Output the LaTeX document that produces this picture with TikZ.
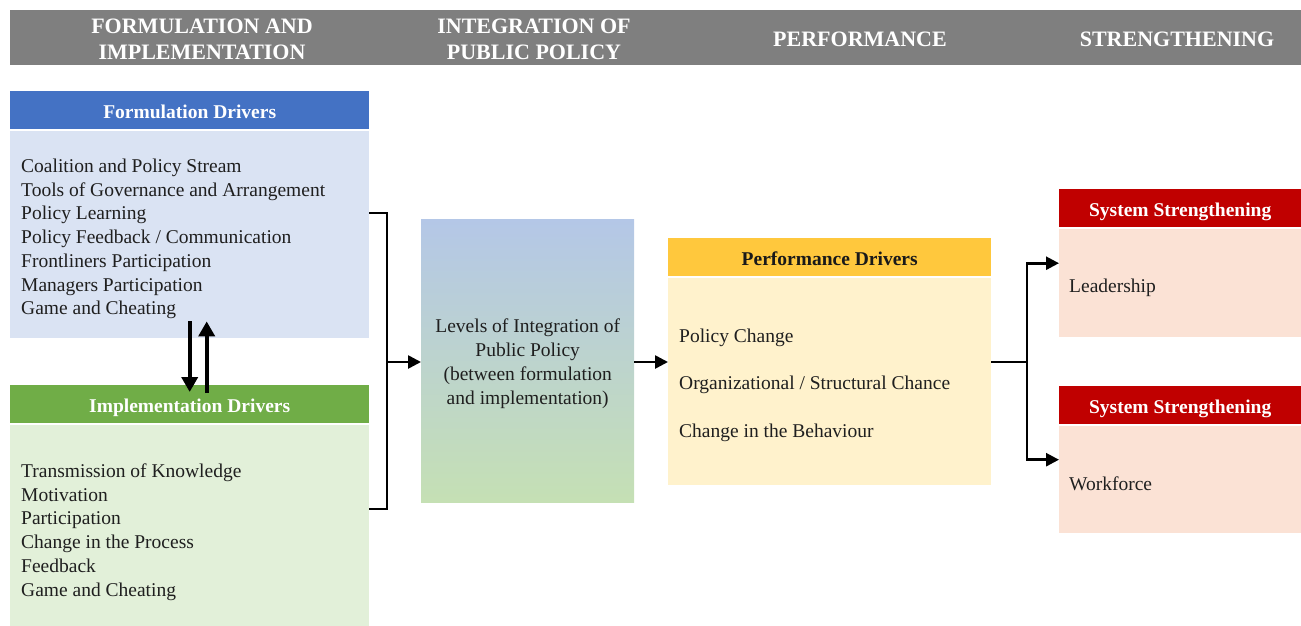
\documentclass[tikz,border=0pt]{standalone}
\usepackage{fontspec}
\setmainfont{Liberation Serif}
\usetikzlibrary{arrows.meta,calc}

\definecolor{bandgray}{HTML}{7F7F7F}
\definecolor{formblue}{HTML}{4472C4}
\definecolor{formfill}{HTML}{DAE3F3}
\definecolor{implgreen}{HTML}{70AD47}
\definecolor{implfill}{HTML}{E2F0D9}
\definecolor{perfgold}{HTML}{FFC83D}
\definecolor{perffill}{HTML}{FFF2CC}
\definecolor{strred}{HTML}{C00000}
\definecolor{strfill}{HTML}{FBE2D5}
\definecolor{integtop}{HTML}{B4C7E7}
\definecolor{integbot}{HTML}{C5E0B4}

\begin{document}
\begin{tikzpicture}[
        x=1pt, y=-1pt,
        coltitle/.style={text=white, align=center, inner sep=0pt,
            font=\fontsize{22}{26}\selectfont\bfseries},
        head/.style={anchor=north west, inner sep=0pt, minimum height=38pt,
            text height=16pt, text depth=0pt,
            text=white, font=\fontsize{19.5}{23}\selectfont\bfseries},
        body/.style={anchor=north west, inner sep=0pt},
        items/.style={anchor=west, align=left, inner sep=0pt, text=black!88,
            font=\fontsize{19.5}{23.7}\selectfont},
        wire/.style={line width=2.6pt},
        link/.style={wire, -{Triangle[length=13pt, width=13pt]}},
        swap/.style={line width=4pt, -{Triangle[length=15pt, width=16pt]}},
    ]
    \useasboundingbox (0,0) rectangle (1301,626);

    % column titles
    \node[body, fill=bandgray, minimum width=1291pt, minimum height=55pt] (bar) at (10,10) {};
    \node[coltitle] (colform) at (202,39) {FORMULATION AND\\IMPLEMENTATION};
    \node[coltitle] (colinteg) at (534,39) {INTEGRATION OF\\PUBLIC POLICY};
    \node[coltitle] (colperf) at (860,39) {PERFORMANCE};
    \node[coltitle] (colstr) at (1177,39) {STRENGTHENING};

    % formulation and implementation
    \node[head, fill=formblue, minimum width=359pt] (formhead) at (10,91) {Formulation Drivers};
    \node[body, fill=formfill, minimum width=359pt, minimum height=207pt] (formbody) at (10,131) {};
    \node[items] (formlist) at (21,239) {Coalition and Policy Stream\\Tools of Governance and Arrangement\\Policy Learning\\Policy Feedback / Communication\\Frontliners Participation\\Managers Participation\\Game and Cheating};

    \node[head, fill=implgreen, minimum width=359pt] (implhead) at (10,385) {Implementation Drivers};
    \node[body, fill=implfill, minimum width=359pt, minimum height=201pt] (implbody) at (10,425) {};
    \node[items] (impllist) at (21,532) {Transmission of Knowledge\\Motivation\\Participation\\Change in the Process\\Feedback\\Game and Cheating};

    \draw[swap] ([yshift=17pt]formbody.south) -- ([yshift=-7pt]implhead.north);
    \draw[swap] ([xshift=17pt, yshift=-8pt]implhead.north) -- ([xshift=17pt, yshift=17pt]formbody.south);

    % integration
    \node[body, top color=integtop, bottom color=integbot, minimum width=213pt, minimum height=283pt] (integ) at (421,219) {};
    \node[align=center, inner sep=0pt, text=black!88, font=\fontsize{19.5}{23.7}\selectfont] (integlabel)
        at ([yshift=-3pt]integ.center) {Levels of Integration of\\Public Policy\\(between formulation\\and implementation)};

    % performance
    \node[head, fill=perfgold, text=black!90, minimum width=323pt] (perfhead) at (668,238) {Performance Drivers};
    \node[body, fill=perffill, minimum width=323pt, minimum height=207pt] (perfbody) at (668,278) {};
    \node[items, font=\fontsize{19.5}{47.5}\selectfont] (perflist) at (679,385) {Policy Change\\Organizational / Structural Chance\\Change in the Behaviour};

    % strengthening
    \node[head, fill=strred, minimum width=242pt] (strheadA) at (1059,189) {System Strengthening};
    \node[body, fill=strfill, minimum width=242pt, minimum height=108pt] (strbodyA) at (1059,229) {};
    \node[items] (strlistA) at (1069,288) {Leadership};
    \node[head, fill=strred, minimum width=242pt] (strheadB) at (1059,386) {System Strengthening};
    \node[body, fill=strfill, minimum width=242pt, minimum height=107pt] (strbodyB) at (1059,426) {};
    \node[items] (strlistB) at (1069,484) {Workforce};

    % connectors
    \coordinate (joinL) at (387,362);
    \coordinate (joinR) at (1027,362);
    \draw[wire] (formbody.east |- 0,213) -| (joinL) |- (implbody.east |- 0,509);
    \draw[link] (joinL) -- (integ.west |- joinL);
    \draw[link] (integ.east |- joinL) -- (perfbody.west |- joinL);
    \draw[wire] (perfbody.east |- joinR) -- (joinR);
    \draw[link] (joinR) |- ($(strheadA.north west)!.5!(strbodyA.south west)$);
    \draw[link] (joinR) |- ($(strheadB.north west)!.5!(strbodyB.south west)$);
\end{tikzpicture}
\end{document}
